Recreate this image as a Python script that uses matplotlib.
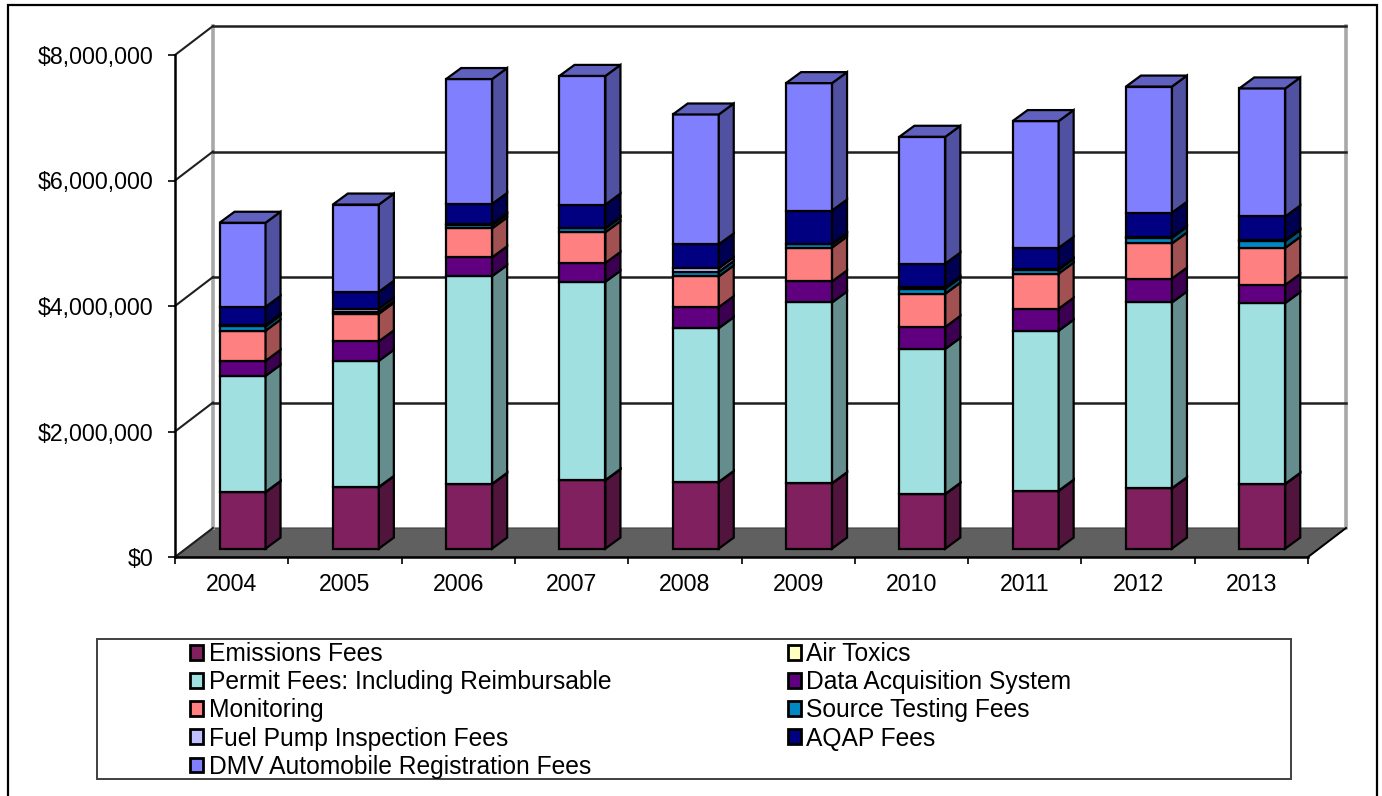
import matplotlib
matplotlib.use("Agg")
import matplotlib.pyplot as plt
from matplotlib.patches import Polygon, Rectangle
from matplotlib.colors import to_rgb
from matplotlib.ticker import FuncFormatter, MultipleLocator

years = ["2004","2005","2006","2007","2008","2009","2010","2011","2012","2013"]
emissions = [900000,980000,1030000,1090000,1060000,1040000,870000,920000,960000,1030000]
air_toxics = [3000,3000,3000,3000,3000,3000,3000,3000,3000,3000]
permit = [1850000,2010000,3310000,3160000,2450000,2880000,2310000,2550000,2960000,2880000]
daq = [240000,310000,300000,300000,335000,335000,350000,350000,380000,290000]
monitoring = [480000,440000,460000,490000,490000,540000,530000,560000,560000,590000]
source_testing = [70000,30000,50000,60000,70000,50000,80000,60000,90000,110000]
fuel_pump = [20000,50000,20000,10000,60000,10000,20000,10000,10000,10000]
aqap = [290000,270000,320000,370000,380000,530000,380000,340000,390000,380000]
dmv = [1340000,1390000,1990000,2050000,2070000,2030000,2020000,2020000,2010000,2040000]

series = [
    ("Emissions Fees", emissions, "#80205f"),
    ("Air Toxics", air_toxics, "#ffffc0"),
    ("Permit Fees: Including Reimbursable", permit, "#a0e0e0"),
    ("Data Acquisition System", daq, "#600080"),
    ("Monitoring", monitoring, "#ff8080"),
    ("Source Testing Fees", source_testing, "#0088c4"),
    ("Fuel Pump Inspection Fees", fuel_pump, "#c0c0ff"),
    ("AQAP Fees", aqap, "#000080"),
    ("DMV Automobile Registration Fees", dmv, "#8080ff"),
]

W, H = 1382, 796
fig = plt.figure(figsize=(W/100, H/100), dpi=100, facecolor="white")
plt.rcParams['font.family'] = ['Liberation Sans', 'DejaVu Sans']

# axes = front plane of the 3-D box
L, R, T, B = 175, 1308, 55, 557
ax = fig.add_axes([L/W, 1-B/H, (R-L)/W, (B-T)/H])
ax.set_xlim(0, len(years)); ax.set_ylim(0, 8000000)
ax.patch.set_visible(False)
for s in ("top", "right"):
    ax.spines[s].set_visible(False)
for s in ("left", "bottom"):
    ax.spines[s].set_linewidth(1.8); ax.spines[s].set_zorder(6)

px_x = len(years) / (R-L)
px_y = 8000000 / (B-T)
dX, dY = 38*px_x, 29*px_y       # depth of the box
fx, fy = 10.9*px_x, 8.4*px_y    # front offset of bars
bx, by = 15*px_x, 11*px_y       # depth of a bar
bw = 46*px_x
LW = 1.6

xmax = len(years)
# floor
ax.add_patch(Polygon([(0,0),(dX,dY),(xmax+dX,dY),(xmax,0)], closed=True,
                     fc="#606060", ec="#404040", lw=0.8, zorder=1, clip_on=False))
# walls
ax.plot([dX,dX],[dY,8000000+dY],color="#a8a8a8",lw=2.6,zorder=1,clip_on=False)
ax.plot([xmax+dX,xmax+dX],[dY,8000000+dY],color="#a8a8a8",lw=2.6,zorder=1,clip_on=False)
ax.plot([xmax,xmax+dX],[0,dY],color="black",lw=1.4,zorder=1.5,clip_on=False)
# gridlines
for v in range(0, 8000001, 2000000):
    ax.plot([0,dX],[v,v+dY],color="#202020",lw=1.5,zorder=1.5,clip_on=False)
    if v:
        ax.plot([dX,xmax+dX],[v+dY,v+dY],color="#202020",lw=1.8,zorder=1.5,clip_on=False)

def shade(c, f):
    return tuple(x*f for x in to_rgb(c))

# stacked bars
handles = {}
bottoms = [0]*len(years)
z = 3
for name, vals, col in series:
    xs = [i + 0.5 + fx for i in range(len(years))]
    h = ax.bar(xs, vals, bw, bottom=[b+fy for b in bottoms], color=col,
               edgecolor="black", linewidth=LW, zorder=z, label=name, clip_on=False)
    handles[name] = h
    for xc, b, v in zip(xs, bottoms, vals):
        x1 = xc + bw/2
        y0, y1 = b+fy, b+v+fy
        ax.add_patch(Polygon([(x1,y0),(x1+bx,y0+by),(x1+bx,y1+by),(x1,y1)], closed=True,
                             fc=shade(col,0.63), ec="black", lw=LW, zorder=z, clip_on=False))
    bottoms = [b+v for b, v in zip(bottoms, vals)]
    z += 0.01
for i, b in enumerate(bottoms):
    x0 = i + 0.5 + fx - bw/2
    y = b + fy
    ax.add_patch(Polygon([(x0,y),(x0+bw,y),(x0+bw+bx,y+by),(x0+bx,y+by)], closed=True,
                         fc=shade(series[-1][2],0.75), ec="black", lw=LW, zorder=z, clip_on=False))

ax.yaxis.set_major_locator(MultipleLocator(2000000))
ax.yaxis.set_major_formatter(FuncFormatter(lambda v, p: f"${v:,.0f}"))
ax.set_xticks(range(len(years)+1), minor=False)
ax.set_xticklabels([""]*(len(years)+1))
ax.set_xticks([i+0.5 for i in range(len(years))], minor=True)
ax.set_xticklabels(years, minor=True)
ax.tick_params(axis="x", which="major", length=5, width=1.2, color="black")
ax.tick_params(axis="x", which="minor", length=0, pad=11.5, labelsize=16.7)
ax.tick_params(axis="y", length=5, width=1.2, pad=10.5, labelsize=16.7)

# outer border and legend frame
fig.add_artist(Rectangle((7.5/W, 1-(H+5)/H), (1377-7.5)/W, (H)/H, transform=fig.transFigure,
                         fc="none", ec="black", lw=1.6))
fig.add_artist(Rectangle((97/W, 1-779/H), (1291-97)/W, (779-639)/H, transform=fig.transFigure,
                         fc="none", ec="#404040", lw=1.4))
order = ["Emissions Fees","Permit Fees: Including Reimbursable","Monitoring",
         "Fuel Pump Inspection Fees","DMV Automobile Registration Fees",
         "Air Toxics","Data Acquisition System","Source Testing Fees","AQAP Fees"]
leg = fig.legend([handles[n] for n in order], order, ncols=2, loc="upper left",
                 bbox_to_anchor=(190/W, 1-642/H), frameon=False, fontsize=17.75,
                 handlelength=0.54, handleheight=0.54, handletextpad=0.22,
                 labelspacing=0.17, columnspacing=7.15, borderpad=0, borderaxespad=0)
for p in leg.legend_handles:
    p.set_linewidth(2.0)

fig.savefig("out.png", dpi=100)
